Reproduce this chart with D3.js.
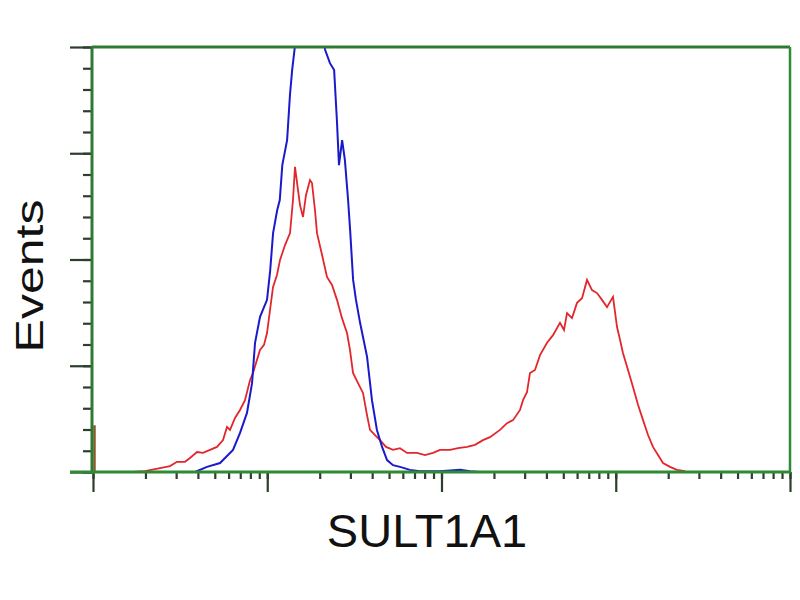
<!DOCTYPE html>
<html><head><meta charset="utf-8">
<script src="https://cdn.jsdelivr.net/npm/d3@7"></script>
<style>body{margin:0;background:#fff}</style>
</head><body><svg id="c" width="800" height="600"></svg>
<script>
// Control (blue) histogram
const blueIntensity = [3.85,4.51,5.36,6.36,6.98,7.65,8.18,8.51,9.09,9.97,10.4,10.8,11.4,11.8,12.2,13.0,13.5,13.9,14.4,15.4,17.6,20.1,21.5,22.9,24.2,25.1,25.8,26.9,27.9,29.1,29.9,31.1,32.3,34.1,37.4,39.9,42.6,45.6,48.7,52.7,57.8,65.9,75.3,98.0,128,146,166];
const blueEvents    = [0,1.2,2.1,5.2,9.2,13.9,20.9,30.4,36.5,40.5,47.5,56.2,61.6,64.0,72.2,78.1,88.7,94.6,100,108,112,106,99.3,96.2,94.6,82.8,72.2,78.1,73.4,64.0,56.9,45.2,40.5,35.1,27.1,16.9,9.9,5.9,2.8,1.6,1.2,0.5,0.2,0.2,0.5,0.2,0];
// SULT1A1 (red) histogram
const redIntensity = [1.696,1.988,2.424,2.766,3.035,3.373,3.603,3.952,4.278,4.692,5.147,5.574,5.875,6.113,6.530,6.976,7.451,7.962,8.284,9.087,9.579,9.97,10.37,10.79,11.38,11.84,12.65,13.51,14.05,14.43,15.01,15.42,16.04,16.69,17.59,18.06,18.79,19.30,20.62,22.02,23.53,25.13,26.85,28.69,29.85,31.06,33.18,35.44,37.37,38.88,41.53,44.37,48.04,52.69,57.78,63.39,72.35,80.42,89.39,98.04,111.9,124.4,140.1,155.7,173.0,189.8,216.6,237.6,257.3,282.2,293.6,309.5,322.0,344.0,367.6,403.2,436.4,478.6,504.7,525.1,561.0,599.4,640.4,684.0,730.7,780.6,834.0,891.0,964.3,1017,1058,1100,1176,1256,1342,1434,1532,1636,1748,1867,2048,2246,2497];
const redEvents    = [0,0.2,0.9,1.4,2.4,2.4,3.3,4.7,4.5,5.2,5.9,7.5,10.6,9.9,12.7,14.6,16.9,21.6,23.3,28.7,29.9,32.7,38.1,43.5,46.4,49.9,53.4,56.2,64.0,71.8,66.4,62.8,60.0,65.2,68.7,68.0,61.6,56.2,51.1,45.9,44.0,40.5,36.2,32.7,28.7,23.3,20.9,18.6,13.4,9.9,8.7,7.5,5.9,5.2,5.6,4.5,4.5,4.0,4.5,5.2,5.2,5.6,5.9,6.4,7.5,8.2,9.9,11.5,12.2,14.6,16.9,18.8,23.3,24.0,27.5,30.4,32.2,35.1,33.4,37.4,36.2,39.8,40.9,45.2,42.8,42.1,40.5,38.8,41.2,34.1,31.1,28.0,24.0,20.0,15.8,12.2,8.7,5.9,4.0,2.1,1.2,0.5,0.2];
// off-scale first bin at the left edge
const firstBinIntensity = [1.02];
const firstBinEvents = [11];
const xMajorTicks = [1,10,100,1000,10000];
const yMajorTicks = [0,25,50,75,100];
const yMinorTicks = d3.range(0,101,5);
const xLabel = "SULT1A1";
const yLabel = "Events";

const L=92, R=790, T=47, B=472;
const svg = d3.select("#c");
const x = d3.scaleLog().domain([1,10000]).range([93,R]);
const y = d3.scaleLinear().domain([0,100]).range([B,T]);
const frameColor = "#2f8a35";
const tickColor = "#2c3e2c";

svg.append("defs").append("clipPath").attr("id","clip")
  .append("rect").attr("x",L).attr("y",T).attr("width",R-L).attr("height",B-T);

// ticks
const yMinor = svg.append("g").attr("transform",`translate(${L},0)`)
  .call(d3.axisLeft(y).tickValues(yMinorTicks).tickSize(9).tickFormat(""));
const yMajor = svg.append("g").attr("transform",`translate(${L},0)`)
  .call(d3.axisLeft(y).tickValues(yMajorTicks).tickSize(22).tickFormat(""));
const xMinor = svg.append("g").attr("transform",`translate(0,${B})`)
  .call(d3.axisBottom(x).tickValues(x.ticks()).tickSize(7).tickFormat(""));
const xMajor = svg.append("g").attr("transform",`translate(0,${B})`)
  .call(d3.axisBottom(x).tickValues(xMajorTicks).tickSize(20).tickFormat(""));
[yMinor,yMajor,xMinor,xMajor].forEach(g=>{
  g.select(".domain").remove();
  g.selectAll(".tick line").attr("stroke",tickColor).attr("stroke-width",2.2);
});

const plot = svg.append("g").attr("clip-path","url(#clip)");
const line = d3.line().x(d=>x(d[0])).y(d=>y(d[1]));
plot.append("path").datum(redIntensity.map((v,i)=>[v,redEvents[i]]))
  .attr("d",line).attr("fill","none").attr("stroke","#e3262b").attr("stroke-width",1.8);
plot.append("path").datum(blueIntensity.map((v,i)=>[v,blueEvents[i]]))
  .attr("d",line).attr("fill","none").attr("stroke","#1a1acc").attr("stroke-width",2);
plot.selectAll(".fb").data(firstBinIntensity).enter().append("line")
  .attr("x1",d=>x(d)).attr("x2",d=>x(d)).attr("y1",y(0)).attr("y2",(d,i)=>y(firstBinEvents[i]))
  .attr("stroke","#8b5a2b").attr("stroke-width",2.5);

// frame
svg.append("line").attr("x1",L).attr("x2",R).attr("y1",T).attr("y2",T).attr("stroke","#2e7a33").attr("stroke-width",3);
svg.append("line").attr("x1",R).attr("x2",R).attr("y1",T).attr("y2",B).attr("stroke",frameColor).attr("stroke-width",2.5);
svg.append("line").attr("x1",L).attr("x2",L).attr("y1",T).attr("y2",B+2).attr("stroke","#2e7a33").attr("stroke-width",3);
svg.append("line").attr("x1",70).attr("x2",R+1).attr("y1",B).attr("y2",B).attr("stroke",frameColor).attr("stroke-width",3);

// labels
svg.append("text").attr("x",427).attr("y",547).attr("text-anchor","middle")
  .attr("font-family","Liberation Sans, Arial, sans-serif").attr("font-size",47).attr("fill","#111").text(xLabel);
svg.append("text").attr("transform","translate(43,276) scale(0.78,1) rotate(-90)")
  .attr("text-anchor","middle")
  .attr("font-family","Liberation Sans, Arial, sans-serif").attr("font-size",50).attr("fill","#111").text(yLabel);
</script></body></html>
